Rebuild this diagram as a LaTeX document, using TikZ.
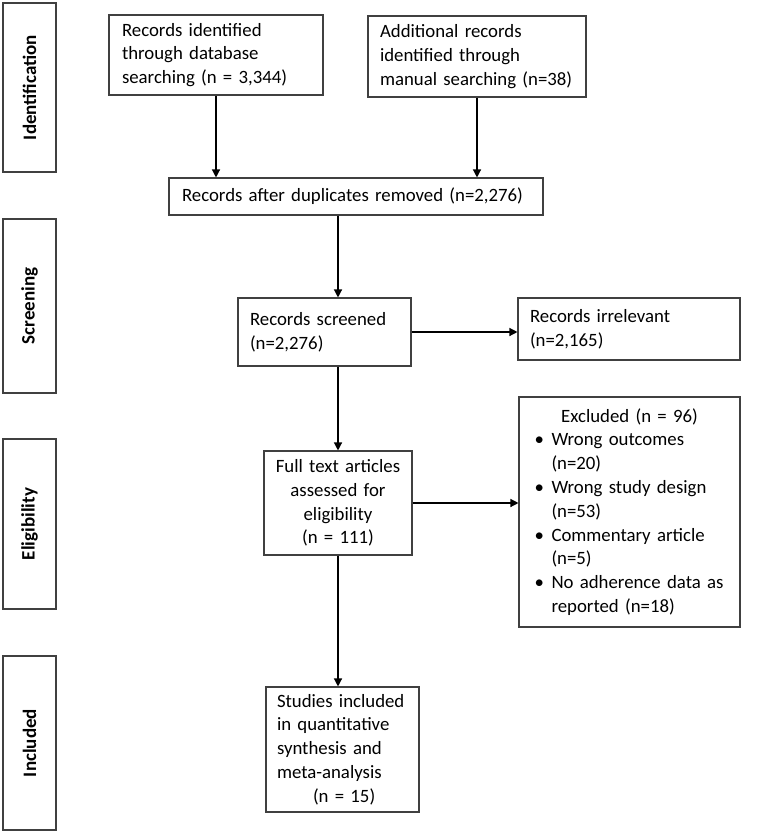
\documentclass[tikz,border=0pt]{standalone}
\usepackage{fontspec}
\setmainfont{Carlito}
\usetikzlibrary{arrows.meta}

\begin{document}
\begin{tikzpicture}[x=1pt,y=-1pt]
    \tikzstyle{every node}=[font=\fontsize{18.8}{23.8}\selectfont]
    \tikzstyle{flowbox}=[draw=black!75,line width=1.1pt,inner ysep=0pt,align=left]
    \tikzstyle{stagebox}=[draw=black!75,line width=1.1pt,rotate=90,inner sep=0pt,
        minimum height=53pt,font=\fontsize{19}{22}\selectfont\bfseries]
    \tikzstyle{flowarrow}=[line width=1.3pt,-{Triangle[length=8pt,width=8pt]}]
    \useasboundingbox (0,0) rectangle (765,833);

    % stages on the left
    \node[stagebox,minimum width=169pt] (ident) at (29.5,87.5) {Identification};
    \node[stagebox,minimum width=174pt] (screen) at (29.5,306) {Screening};
    \node[stagebox,minimum width=170pt] (elig) at (29.5,524) {Eligibility};
    \node[stagebox,minimum width=174pt] (incl) at (29.5,743) {Included};

    % flow
    \node[flowbox,text width=188pt,inner xsep=13pt,minimum height=80pt] (dbsearch)
        at (216,55) {Records identified\\ through database\\ searching~(n~=~3,344)};
    \node[flowbox,text width=194pt,inner xsep=12pt,minimum height=81pt] (mansearch)
        at (477,56.5) {Additional records\\ identified through\\ manual~searching~(n=38)};
    \node[flowbox,text width=348pt,inner xsep=13pt,minimum height=37pt] (dedup)
        at (356,196.5) {Records~after~duplicates~removed~(n=2,276)};
    \node[flowbox,text width=149pt,inner xsep=12pt,minimum height=68pt] (screened)
        at (324.5,332) {Records screened\\ (n=2,276)};
    \node[flowbox,text width=198pt,inner xsep=12pt,minimum height=62pt] (irrelevant)
        at (629,329) {Records irrelevant\\ (n=2,165)};
    \node[flowbox,text width=128pt,inner xsep=10pt,minimum height=104pt,align=center] (fulltext)
        at (338,503) {Full~text~articles\\ assessed for\\ eligibility\\ (n = 111)};
    \node[flowbox,text width=190pt,inner xsep=15.5pt,minimum height=230pt] (excluded)
        at (629.5,512) {\centerline{Excluded (n = 96)}
        \makebox[17pt][l]{\textbullet}Wrong outcomes\\ \hspace*{17pt}(n=20)\\
        \makebox[17pt][l]{\textbullet}Wrong~study~design\\ \hspace*{17pt}(n=53)\\
        \makebox[17pt][l]{\textbullet}Commentary~article\\ \hspace*{17pt}(n=5)\\
        \makebox[17pt][l]{\textbullet}No~adherence~data~as\\ \hspace*{17pt}reported (n=18)};
    \node[flowbox,text width=131pt,inner xsep=11pt,minimum height=125pt] (studies)
        at (342.5,749.5) {Studies~included\\ in quantitative\\ synthesis and\\
        meta-analysis\\ \hspace*{36pt}(n = 15)};

    \draw[flowarrow] (dbsearch.south) -- (dbsearch.south |- dedup.north);
    \draw[flowarrow] (mansearch.south) -- (mansearch.south |- dedup.north);
    \draw[flowarrow] (dedup.south -| fulltext.north) -- (screened.north -| fulltext.north);
    \draw[flowarrow] (screened.east) -- (screened.east -| irrelevant.west);
    \draw[flowarrow] (screened.south -| fulltext.north) -- (fulltext.north);
    \draw[flowarrow] (fulltext.east) -- (fulltext.east -| excluded.west);
    \draw[flowarrow] (fulltext.south) -- (fulltext.south |- studies.north);

\end{tikzpicture}
\end{document}
